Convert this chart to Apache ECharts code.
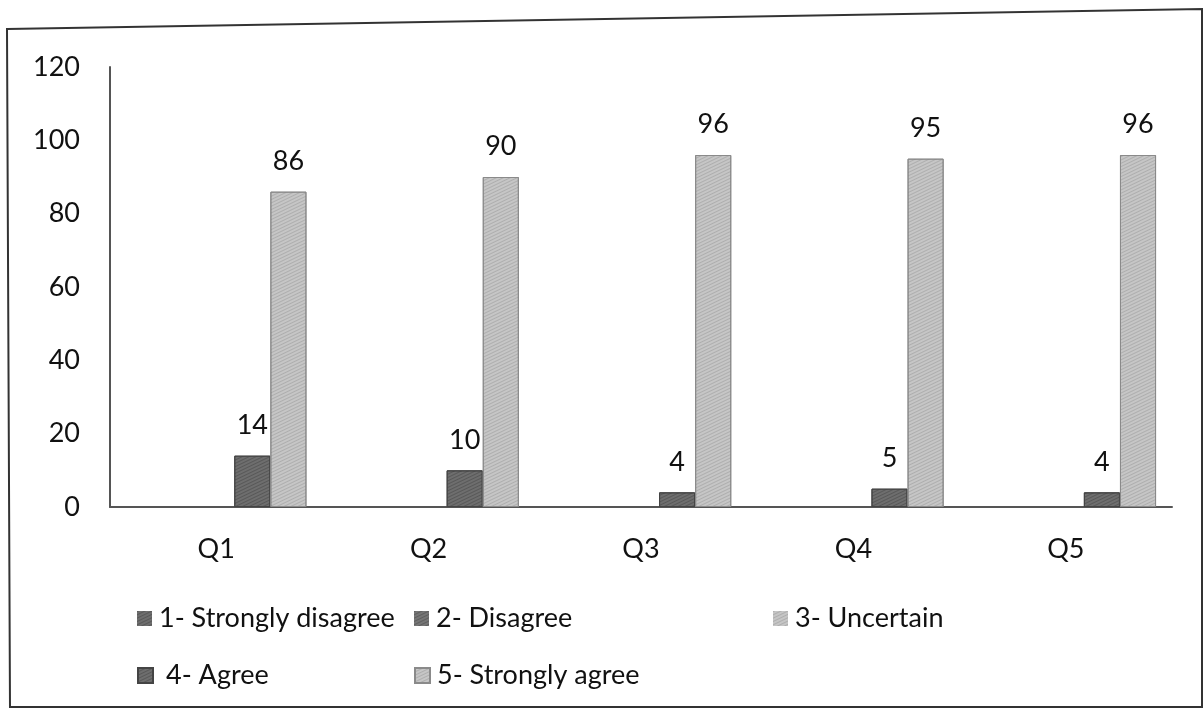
<!DOCTYPE html>
<html>
<head>
<meta charset="utf-8">
<script src="https://cdn.jsdelivr.net/npm/echarts@6/dist/echarts.min.js"></script>
<style>
  html, body { margin: 0; padding: 0; background: #fff; }
  #chart { width: 1204px; height: 710px; }
</style>
</head>
<body>
<div id="chart"></div>
<script>
// Survey responses per question
const categories = ['Q1', 'Q2', 'Q3', 'Q4', 'Q5'];
const seriesNames = ['1- Strongly disagree', '2- Disagree', '3- Uncertain', '4- Agree', '5- Strongly agree'];
const stronglyDisagree = [0, 0, 0, 0, 0];
const disagree = [0, 0, 0, 0, 0];
const uncertain = [0, 0, 0, 0, 0];
const agree = [14, 10, 4, 5, 4];
const stronglyAgree = [86, 90, 96, 95, 96];
const yTicks = [0, 20, 40, 60, 80, 100, 120];

const FONT = 'Lato, "Open Sans", sans-serif';
const TEXT = '#111';

const dark = '#6e6e6e';
const light = '#c6c6c6';
const colors = [dark, '#767676', light, dark, light];

// Fine diagonal hatching over the bar fills
function texture(alpha) {
  return {
    symbol: 'rect',
    symbolSize: 1,
    dashArrayX: [1, 0],
    dashArrayY: [1, 2],
    rotation: -Math.PI / 7,
    color: 'rgba(0,0,0,' + alpha + ')'
  };
}

const values = [stronglyDisagree, disagree, uncertain, agree, stronglyAgree];

const series = seriesNames.map((name, i) => ({
  name: name,
  type: 'bar',
  data: values[i],
  barGap: '0%',
  barCategoryGap: '15%',
  itemStyle: {
    color: colors[i],
    borderColor: colors[i] === light ? '#8a8a8a' : '#444',
    borderWidth: values[i].some(v => v > 0) ? 1 : 0,
    decal: texture(colors[i] === light ? 0.12 : 0.2)
  },
  label: {
    show: values[i].some(v => v > 0),
    position: 'top',
    distance: 17,
    fontFamily: FONT,
    fontSize: 27,
    color: TEXT,
    formatter: p => (p.value > 0 ? String(p.value) : '')
  }
}));

// Legend laid out as a two-row grid
const legendSlots = [
  { left: 132, top: 600 },
  { left: 409, top: 600 },
  { left: 768, top: 600 },
  { left: 132, top: 657 },
  { left: 409, top: 657 }
];
const legends = seriesNames.map((name, i) => ({
  data: [name],
  left: legendSlots[i].left,
  top: legendSlots[i].top,
  itemWidth: 15,
  itemHeight: 15,
  icon: 'rect',
  selectedMode: false,
  textStyle: {
    fontFamily: FONT,
    fontSize: 27,
    color: TEXT,
    padding: [0, 0, 0, i === 3 ? 8 : 2]
  }
}));

const chart = echarts.init(document.getElementById('chart'), null, { renderer: 'canvas' });
chart.setOption({
  backgroundColor: '#fff',
  animation: false,
  aria: { enabled: false },
  grid: { left: 110, right: 32, top: 67, bottom: 203, containLabel: false },
  legend: legends,
  xAxis: {
    type: 'category',
    data: categories,
    axisLine: { show: true, lineStyle: { color: '#555', width: 2 } },
    axisTick: { show: false },
    axisLabel: { fontFamily: FONT, fontSize: 27, color: TEXT, margin: 29 }
  },
  yAxis: {
    type: 'value',
    min: yTicks[0],
    max: yTicks[yTicks.length - 1],
    interval: yTicks[1] - yTicks[0],
    axisLine: { show: true, lineStyle: { color: '#555', width: 2 } },
    axisTick: { show: false },
    splitLine: { show: false },
    axisLabel: { fontFamily: FONT, fontSize: 27, color: TEXT, margin: 30 }
  },
  graphic: [{
    type: 'polygon',
    shape: { points: [[7, 29], [1202, 9], [1202, 707], [10, 707]] },
    style: { fill: null, stroke: '#333', lineWidth: 2 },
    silent: true,
    z: 100
  }],
  series: series
});
</script>
</body>
</html>
